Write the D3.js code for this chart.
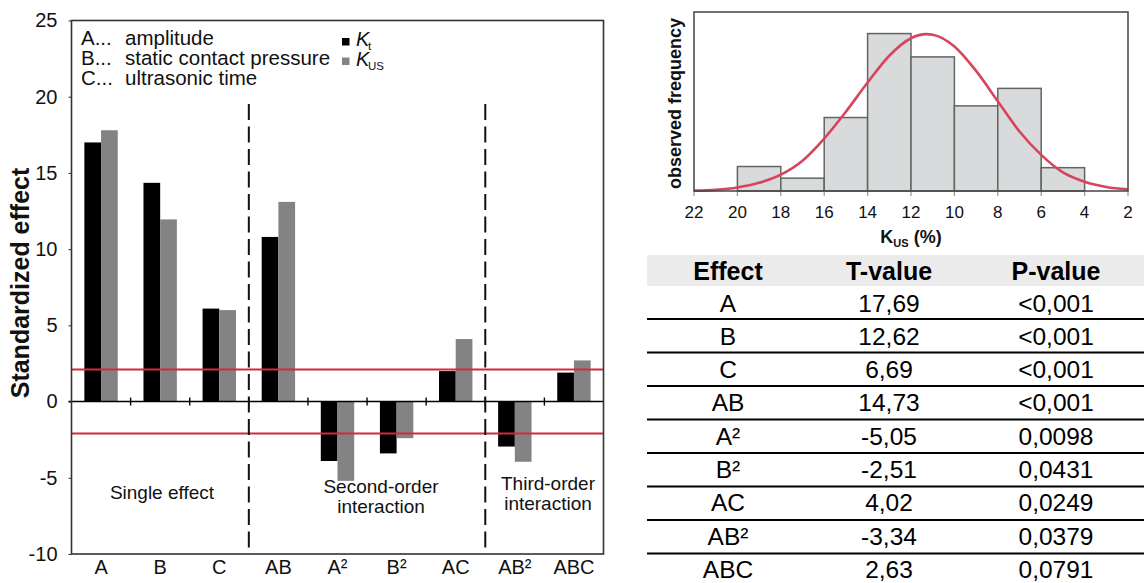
<!DOCTYPE html>
<html>
<head>
<meta charset="utf-8">
<script src="https://cdn.jsdelivr.net/npm/d3@7"></script>
<style>
  body { margin: 0; background: #fff; }
  svg { display: block; font-family: "Liberation Sans", Arial, sans-serif; }
</style>
</head>
<body>
<svg id="chart" width="1144" height="583"></svg>
<script>
// ---------- Data: Pareto of standardized effects ----------
const categories = ["A", "B", "C", "AB", "A²", "B²", "AC", "AB²", "ABC"];
const seriesNames = ["Kt", "KUS"];
const ktValues  = [17.0, 14.35, 6.1, 10.8, -3.9, -3.4, 2.0, -2.95, 1.9];
const kusValues = [17.8, 11.95, 6.0, 13.1, -5.2, -2.4, 4.1, -3.95, 2.7];
const yTicks = [-10, -5, 0, 5, 10, 15, 20, 25];
const thresholds = [2.1, -2.1];
const groupDividers = [3, 7]; // dashed divider before these category indices
const legendFactors = [["A...", "amplitude"], ["B...", "static contact pressure"], ["C...", "ultrasonic time"]];

// ---------- Data: histogram of K_US ----------
const binStart = [20, 18, 16, 14, 12, 10, 8, 6];
const binEnd   = [18, 16, 14, 12, 10, 8, 6, 4];
const binFreq  = [2.1, 1.1, 6.3, 13.5, 11.5, 7.3, 8.8, 2.0];
const histTicks = [22, 20, 18, 16, 14, 12, 10, 8, 6, 4, 2];
const curveX = [22, 21, 20, 19, 18, 17, 16, 15, 14, 13, 12, 11.3, 11, 10, 9, 8, 7, 6, 5, 4, 3, 2];
const curveY = [0.03, 0.1, 0.3, 0.7, 1.4, 2.6, 4.5, 6.8, 9.3, 11.6, 13.1, 13.45, 13.4, 12.4, 10.3, 7.7, 5.1, 3.1, 1.6, 0.8, 0.35, 0.14];

// ---------- Data: table ----------
const tableHeader = ["Effect", "T-value", "P-value"];
const tableEffects = ["A", "B", "C", "AB", "A²", "B²", "AC", "AB²", "ABC"];
const tableT = [17.69, 12.62, 6.69, 14.73, -5.05, -2.51, 4.02, -3.34, 2.63];
const tableP = ["<0,001", "<0,001", "<0,001", "<0,001", "0,0098", "0,0431", "0,0249", "0,0379", "0,0791"];

const svg = d3.select("#chart");

// =============== LEFT CHART ===============
const L = { left: 71.5, right: 603.5, top: 20.5, bottom: 554 };
const x = d3.scaleBand().domain(categories).range([L.left, L.right]).padding(0);
const bw = x.bandwidth();
const pairW = bw * 0.565;
const x1 = d3.scaleBand().domain(seriesNames).range([(bw - pairW) / 2, (bw + pairW) / 2]).padding(0);
const y = d3.scaleLinear().domain([-10, 25]).range([L.bottom, L.top]);
const colors = { Kt: "#000000", KUS: "#838383" };

const rows = categories.map((c, i) => ({ cat: c, Kt: ktValues[i], KUS: kusValues[i] }));

const gL = svg.append("g");

// bars
const grp = gL.selectAll("g.cat").data(rows).join("g")
  .attr("transform", d => `translate(${x(d.cat)},0)`);
grp.selectAll("rect").data(d => seriesNames.map(s => ({ s, v: d[s] }))).join("rect")
  .attr("x", d => x1(d.s))
  .attr("width", x1.bandwidth())
  .attr("y", d => y(Math.max(0, d.v)))
  .attr("height", d => Math.abs(y(d.v) - y(0)))
  .attr("fill", d => colors[d.s]);

// threshold lines
gL.selectAll("line.thr").data(thresholds).join("line")
  .attr("x1", L.left).attr("x2", L.right)
  .attr("y1", d => y(d)).attr("y2", d => y(d))
  .attr("stroke", "#d4283c").attr("stroke-width", 2);

// zero line
gL.append("line").attr("x1", L.left - 3).attr("x2", L.right)
  .attr("y1", y(0)).attr("y2", y(0)).attr("stroke", "#000").attr("stroke-width", 1.6);

// ticks on zero line at band boundaries
const boundaries = categories.slice(1).map(c => x(c));
gL.selectAll("line.zt").data(boundaries).join("line")
  .attr("x1", d => d).attr("x2", d => d)
  .attr("y1", y(0) - 4).attr("y2", y(0) + 4)
  .attr("stroke", "#000").attr("stroke-width", 1.4);

// dashed group dividers
gL.selectAll("line.div").data(groupDividers).join("line")
  .attr("x1", d => x(categories[d])).attr("x2", d => x(categories[d]))
  .attr("y1", 104).attr("y2", L.bottom)
  .attr("stroke", "#111").attr("stroke-width", 2)
  .attr("stroke-dasharray", "16,6.5");

// frame
gL.append("rect").attr("x", L.left).attr("y", L.top)
  .attr("width", L.right - L.left).attr("height", L.bottom - L.top)
  .attr("fill", "none").attr("stroke", "#333").attr("stroke-width", 1.6);

// y axis
const yAxis = d3.axisLeft(y).tickValues(yTicks).tickSize(3).tickFormat(d => String(d));
const yg = gL.append("g").attr("transform", `translate(${L.left},0)`).call(yAxis);
yg.select(".domain").remove();
yg.selectAll("text").attr("font-size", 20).attr("fill", "#111").attr("x", -14)
  .attr("font-family", "Liberation Sans, Arial, sans-serif");
yg.selectAll("line").attr("stroke", "#333");

// x labels
const xAxis = d3.axisBottom(x).tickSize(0).tickPadding(6);
const xg = gL.append("g").attr("transform", `translate(0,${L.bottom})`).call(xAxis);
xg.select(".domain").remove();
xg.selectAll("text").attr("font-size", 20).attr("fill", "#111")
  .attr("font-family", "Liberation Sans, Arial, sans-serif");

// y title
gL.append("text").attr("transform", `translate(29,283) rotate(-90)`)
  .attr("text-anchor", "middle").attr("font-size", 25).attr("font-weight", "bold")
  .attr("fill", "#111").text("Standardized effect");

// factor legend
legendFactors.forEach((f, i) => {
  const t = gL.append("text").attr("y", 45 + i * 20).attr("font-size", 20.5).attr("fill", "#111");
  t.append("tspan").attr("x", 81).text(f[0]);
  t.append("tspan").attr("x", 125).text(f[1]);
});

// series legend
const legItems = [{ s: "Kt", main: "K", sub: "t" }, { s: "KUS", main: "K", sub: "US" }];
legItems.forEach((d, i) => {
  const yy = 38 + i * 19.5;
  gL.append("rect").attr("x", 342).attr("y", yy).attr("width", 7.5).attr("height", 7.5).attr("fill", colors[d.s]);
  gL.append("text").attr("x", 356).attr("y", yy + 8).attr("font-size", 20).attr("font-style", "italic")
    .attr("fill", "#111").text(d.main);
  gL.append("text").attr("x", 368).attr("y", yy + 12).attr("font-size", 11.5)
    .attr("fill", "#111").text(d.sub);
});

// group labels
const groupLabels = [
  { lines: ["Single effect"], cx: 162, y0: 499 },
  { lines: ["Second-order", "interaction"], cx: 381, y0: 493 },
  { lines: ["Third-order", "interaction"], cx: 548, y0: 490 }
];
groupLabels.forEach(g => {
  g.lines.forEach((ln, j) => {
    gL.append("text").attr("x", g.cx).attr("y", g.y0 + j * 20)
      .attr("text-anchor", "middle").attr("font-size", 19).attr("fill", "#111").text(ln);
  });
});

// =============== HISTOGRAM ===============
const H = { left: 694, right: 1128, top: 12, bottom: 191 };
const hx = d3.scaleLinear().domain([22, 2]).range([H.left, H.right]);
const hy = d3.scaleLinear().domain([0, 15.35]).range([H.bottom, H.top]);
const gH = svg.append("g");

const bins = binStart.map((s, i) => ({ s, e: binEnd[i], f: binFreq[i] }));
gH.selectAll("rect.bin").data(bins).join("rect")
  .attr("x", d => hx(d.s)).attr("width", d => hx(d.e) - hx(d.s))
  .attr("y", d => hy(d.f)).attr("height", d => hy(0) - hy(d.f))
  .attr("fill", "#d9dadb").attr("stroke", "#626662").attr("stroke-width", 1.5);

// x ticks
gH.selectAll("line.ht").data(histTicks).join("line")
  .attr("x1", d => hx(d)).attr("x2", d => hx(d))
  .attr("y1", H.bottom).attr("y2", H.bottom + 5)
  .attr("stroke", "#999").attr("stroke-width", 1.2);
gH.selectAll("text.htl").data(histTicks).join("text")
  .attr("x", d => hx(d)).attr("y", 218).attr("text-anchor", "middle")
  .attr("font-size", 17).attr("fill", "#111").text(d => d);

// normal fit curve
const curvePts = curveX.map((v, i) => [v, curveY[i]]);
gH.append("path").datum(curvePts)
  .attr("d", d3.line().x(d => hx(d[0])).y(d => hy(d[1])).curve(d3.curveMonotoneX))
  .attr("fill", "none").attr("stroke", "#d6455c").attr("stroke-width", 2.6);

// frame
gH.append("rect").attr("x", H.left).attr("y", H.top)
  .attr("width", H.right - H.left).attr("height", H.bottom - H.top)
  .attr("fill", "none").attr("stroke", "#444").attr("stroke-width", 1.5);

// titles
const ht = gH.append("text").attr("x", 911).attr("y", 243).attr("text-anchor", "middle")
  .attr("font-size", 18).attr("font-weight", "bold").attr("fill", "#111");
ht.append("tspan").text("K");
ht.append("tspan").attr("font-size", 11).attr("dy", 4).text("US");
ht.append("tspan").attr("dy", -4).text(" (%)");

gH.append("text").attr("transform", `translate(681,${(H.top + H.bottom) / 2 + 2}) rotate(-90)`)
  .attr("text-anchor", "middle").attr("font-size", 18).attr("font-weight", "bold")
  .attr("fill", "#111").text("observed frequency");

// =============== TABLE ===============
const T = { left: 647, right: 1144, headTop: 255, headBottom: 286, rowH: 33.3, lineH: 33.5 };
const colX = [728, 889, 1056];
const gT = svg.append("g");
gT.append("rect").attr("x", T.left).attr("y", T.headTop)
  .attr("width", T.right - T.left).attr("height", T.headBottom - T.headTop).attr("fill", "#ebebeb");
tableHeader.forEach((h, i) => {
  gT.append("text").attr("x", colX[i]).attr("y", 280).attr("text-anchor", "middle")
    .attr("font-size", 25).attr("font-weight", "bold").attr("fill", "#000").text(h);
});
const fmtT = v => (v < 0 ? "-" : "") + Math.abs(v).toFixed(2).replace(".", ",");
tableEffects.forEach((e, i) => {
  const yb = 311.5 + i * T.rowH;
  [e, fmtT(tableT[i]), tableP[i]].forEach((txt, j) => {
    gT.append("text").attr("x", colX[j]).attr("y", yb).attr("text-anchor", "middle")
      .attr("font-size", 24.5).attr("fill", "#000").text(txt);
  });
  if (i < tableEffects.length - 1) {
    const ly = T.headBottom + 33 + i * T.lineH;
    gT.append("line").attr("x1", T.left).attr("x2", T.right).attr("y1", ly).attr("y2", ly)
      .attr("stroke", "#000").attr("stroke-width", 2);
  }
});
</script>
</body>
</html>
